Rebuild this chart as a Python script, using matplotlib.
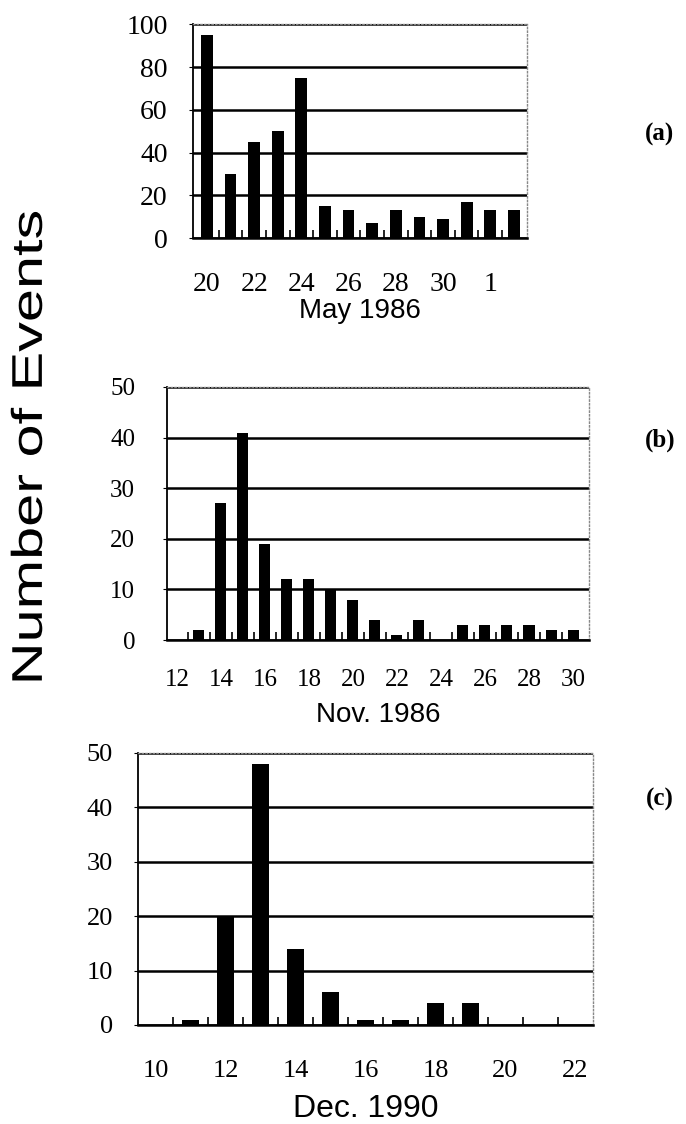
import matplotlib
matplotlib.use("Agg")
import matplotlib.pyplot as plt
import numpy as np
from matplotlib.patheffects import AbstractPathEffect
from matplotlib.transforms import Affine2D

# daily event counts
may_days = ["20", "21", "22", "23", "24", "25", "26", "27", "28", "29", "30", "31", "1", "2"]
may_counts = [95, 30, 45, 50, 75, 15, 13, 7, 13, 10, 9, 17, 13, 13]

nov_days = [13, 14, 15, 16, 17, 18, 19, 20, 21, 22, 23, 24, 25, 26, 27, 28, 29, 30]
nov_counts = [2, 27, 41, 19, 12, 12, 10, 8, 4, 1, 4, 0, 3, 3, 3, 3, 2, 2]

dec_days = [11, 12, 13, 14, 15, 16, 17, 18, 19]
dec_counts = [1, 20, 48, 14, 6, 1, 1, 4, 4]

serif = ["Liberation Serif", "DejaVu Serif"]
sans = ["Liberation Sans", "DejaVu Sans"]


class Stretch(AbstractPathEffect):
    """Stretch drawn text vertically (display y) about its own centre."""

    def __init__(self, sy):
        super().__init__()
        self.sy = sy

    def draw_path(self, renderer, gc, tpath, affine, rgbFace=None):
        bb = tpath.get_extents(affine)
        cy = 0.5 * (bb.y0 + bb.y1)
        t = affine + Affine2D().translate(0, -cy).scale(1, self.sy).translate(0, cy)
        renderer.draw_path(gc, tpath, t, rgbFace)


fig = plt.figure(figsize=(6.86, 11.24), dpi=100)


def style_axes(ax, ymax, ystep, xpad, ypad, size):
    ax.set_ylim(0, ymax)
    ax.set_yticks(np.arange(0, ymax + 1, ystep))
    ax.yaxis.grid(True, color="black", linewidth=1.8)
    ax.set_axisbelow(True)
    for side in ["top", "right"]:
        ax.spines[side].set_color("#888888")
        ax.spines[side].set_linestyle(":")
        ax.spines[side].set_linewidth(1.0)
    ax.spines["left"].set_linewidth(1.3)
    ax.spines["bottom"].set_linewidth(1.8)
    ax.tick_params(axis="x", which="major", length=0, pad=xpad)
    ax.tick_params(axis="y", which="major", length=3, direction="out", pad=ypad)
    ax.tick_params(axis="x", which="minor", length=6, direction="in", width=1.2)
    for lab in ax.get_xticklabels() + ax.get_yticklabels():
        lab.set_fontfamily(serif)
        lab.set_fontsize(size)


# (a) May 1986
ax1 = fig.add_axes([0.281, 0.788, 0.487, 0.1904])
idx = np.arange(len(may_days))
ax1.bar(idx, may_counts, width=0.5, color="black")
ax1.set_xlim(-0.6, 13.55)
ax1.set_xticks(idx[::2])
ax1.set_xticklabels(may_days[::2])
ax1.set_xticks(idx[:-1] + 0.5, minor=True)
style_axes(ax1, 100, 20, 24, 15, 20)
ax1.set_xlabel("May 1986", family=sans, fontsize=20, labelpad=1)

# (b) Nov. 1986
ax2 = fig.add_axes([0.2434, 0.4306, 0.615, 0.2251])
ax2.bar(nov_days, nov_counts, width=0.5, color="black")
ax2.set_xlim(11.55, 30.72)
ax2.set_xticks(np.arange(12, 31, 2))
ax2.set_xticks(np.arange(12.5, 30.5, 1), minor=True)
style_axes(ax2, 50, 10, 21, 20, 18)
ax2.set_xlabel("Nov. 1986", family=sans, fontsize=20, labelpad=8)

# (c) Dec. 1990
ax3 = fig.add_axes([0.2012, 0.0881, 0.6633, 0.242])
ax3.bar(dec_days, dec_counts, width=0.5, color="black")
ax3.set_xlim(9.5, 22.5)
ax3.set_xticks(np.arange(10, 23, 2))
ax3.set_xticks(np.arange(10.5, 22.5, 1), minor=True)
style_axes(ax3, 50, 10, 25, 15, 19)
ax3.set_xlabel("Dec. 1990", family=sans, fontsize=23, labelpad=9)

fig.text(0.045, 0.602, "Number of Events", rotation=90, ha="center", va="center",
         family=sans, fontsize=31, path_effects=[Stretch(1.38)])

for y, tag in [(0.88, "(a)"), (0.608, "(b)"), (0.289, "(c)")]:
    fig.text(0.962, y, tag, ha="center", va="center", family=serif,
             fontweight="bold", fontsize=18)

fig.savefig("out.png", dpi=100)
